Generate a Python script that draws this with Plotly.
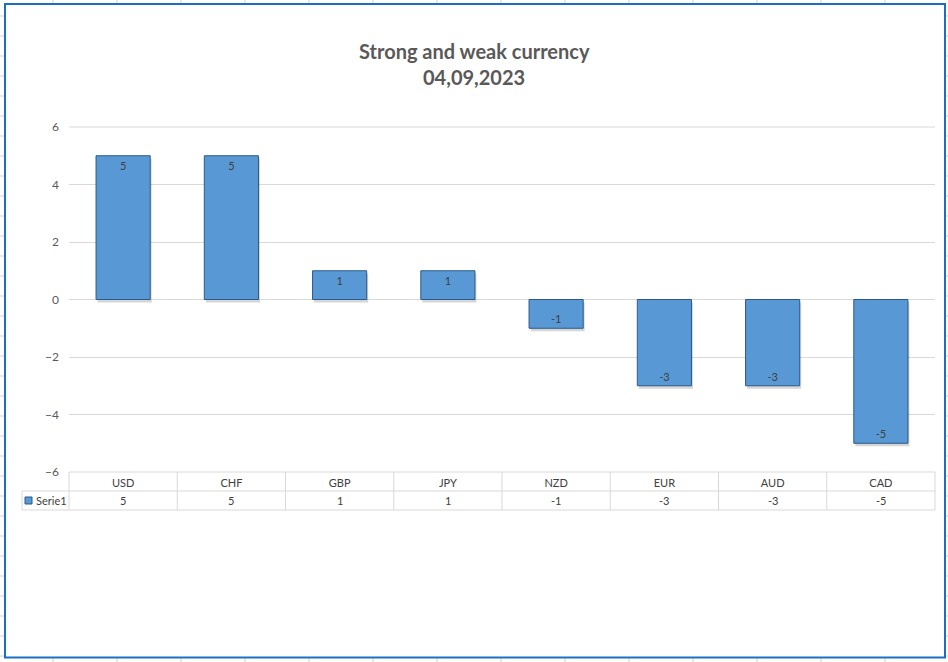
import plotly.graph_objects as go

currencies = ["USD", "CHF", "GBP", "JPY", "NZD", "EUR", "AUD", "CAD"]
strength = [5, 5, 1, 1, -1, -3, -3, -5]
series_name = "Serie1"
title_lines = ["Strong and weak currency", "04,09,2023"]
y_ticks = [-6, -4, -2, 0, 2, 4, 6]

W, H = 948, 662
def px(x): return x / W
def py(y): return 1 - y / H

PL, PR, PT, PB = 69, 935, 127, 472
FONT = "Lato, 'Open Sans', sans-serif"
GRID = "#d9d9d9"
n = len(currencies)
cw = (PR - PL) / n
unit_px = (PB - PT) / 12.0

fig = go.Figure()
# soft shadow under bars
fig.add_trace(go.Bar(
    x=currencies, y=strength, base=-3 / unit_px, offset=-0.25 + 1.5 / cw, width=0.5,
    marker=dict(color="rgba(0,0,0,0.16)", line=dict(width=0)),
    hoverinfo="skip", showlegend=False,
))
fig.add_trace(go.Bar(
    x=currencies, y=strength, name=series_name, offset=-0.25, width=0.5,
    marker=dict(color="#5898d4", line=dict(color="#2a5a8a", width=1)),
    text=[str(v) for v in strength], textposition="inside",
    insidetextanchor="end", textangle=0,
    textfont=dict(family=FONT, size=11, color="#404040"),
    showlegend=False,
))

shapes = []
for k in range(14):
    gx = 53 + 64 * k
    for (y0, y1) in [(0, 4), (658, 662)]:
        shapes.append(dict(type="line", xref="paper", yref="paper",
                           x0=px(gx), x1=px(gx), y0=py(y0), y1=py(y1),
                           line=dict(color="#d0d0d0", width=1), layer="below"))
for k in range(33):
    gy = 16 + 20 * k
    for (x0, x1) in [(0, 5), (945, 948)]:
        shapes.append(dict(type="line", xref="paper", yref="paper",
                           x0=px(x0), x1=px(x1), y0=py(gy), y1=py(gy),
                           line=dict(color="#d0d0d0", width=1), layer="below"))
shapes.append(dict(type="rect", xref="paper", yref="paper",
                   x0=px(5), x1=px(945), y0=py(4), y1=py(657.5),
                   line=dict(color="#1b6ec2", width=2)))
# top gridline at 6 (edge of range)
shapes.append(dict(type="line", xref="paper", yref="paper",
                   x0=px(PL), x1=px(PR), y0=py(PT), y1=py(PT),
                   line=dict(color=GRID, width=1), layer="below"))
for (y, x0) in [(PB, PL), (491, 22), (510, 22)]:
    shapes.append(dict(type="line", xref="paper", yref="paper",
                       x0=px(x0), x1=px(PR), y0=py(y), y1=py(y),
                       line=dict(color=GRID, width=1)))
for k in range(n + 1):
    x = PL + cw * k
    shapes.append(dict(type="line", xref="paper", yref="paper",
                       x0=px(x), x1=px(x), y0=py(PB), y1=py(510),
                       line=dict(color=GRID, width=1)))
shapes.append(dict(type="line", xref="paper", yref="paper",
                   x0=px(22), x1=px(22), y0=py(491), y1=py(510),
                   line=dict(color=GRID, width=1)))
shapes.append(dict(type="rect", xref="paper", yref="paper",
                   x0=px(25), x1=px(32), y0=py(497), y1=py(504),
                   fillcolor="#5898d4", line=dict(color="#2a5a8a", width=1)))

annotations = [dict(xref="paper", yref="paper", x=px(34), y=py(500.5),
                    text=series_name, showarrow=False, xanchor="left", yanchor="middle",
                    font=dict(family=FONT, size=11, color="#404040")),
               dict(xref="paper", yref="paper", x=0.5, y=py(51), text="<b>" + title_lines[0] + "</b>",
                    showarrow=False, xanchor="center", yanchor="middle",
                    font=dict(family=FONT, size=20, color="#595959")),
               dict(xref="paper", yref="paper", x=0.5, y=py(77), text="<b>" + title_lines[1] + "</b>",
                    showarrow=False, xanchor="center", yanchor="middle",
                    font=dict(family=FONT, size=20, color="#595959"))]
for c, v in zip(currencies, strength):
    annotations.append(dict(xref="x", yref="paper", x=c, y=py(500.5),
                            text=str(v), showarrow=False, yanchor="middle",
                            font=dict(family=FONT, size=11, color="#404040")))

fig.update_layout(
    width=W, height=H, margin=dict(l=0, r=0, t=0, b=0, autoexpand=False),
    paper_bgcolor="white", plot_bgcolor="white",
    barmode="overlay",
    xaxis=dict(domain=[px(PL), px(PR)], showgrid=False, showline=False, automargin=False,
               ticks="", tickfont=dict(family=FONT, size=11, color="#404040"),
               ticklabelstandoff=3),
    yaxis=dict(domain=[py(PB), py(PT)], range=[-6, 6], tickvals=y_ticks, automargin=False,
               showgrid=True, gridcolor=GRID, gridwidth=1, zeroline=False,
               showline=False, ticks="", ticklabelstandoff=9,
               tickfont=dict(family=FONT, size=12, color="#595959")),
    shapes=shapes, annotations=annotations,
)
fig.write_html("out.html")
